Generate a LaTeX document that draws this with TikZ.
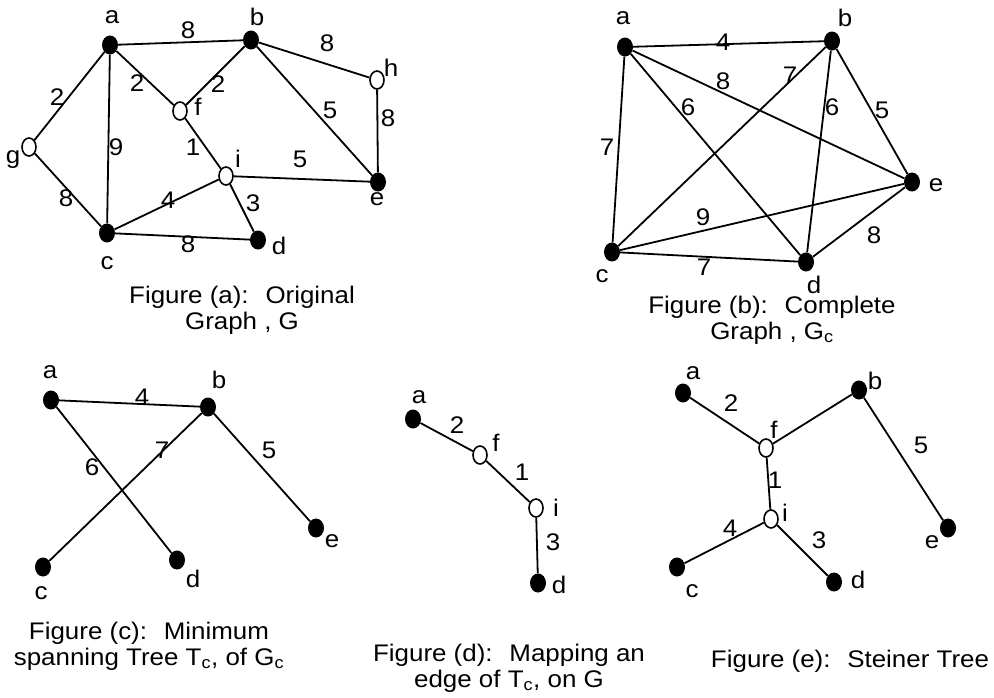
\documentclass[tikz,border=0pt]{standalone}
\usepackage{fontspec}
\setmainfont{Liberation Sans}[FakeStretch=1.08]
\usetikzlibrary{shapes.geometric}
\begin{document}
\begin{tikzpicture}[x=1pt,y=-1pt,
  fnode/.style={ellipse, fill=black, minimum width=16pt, minimum height=19pt, inner sep=0pt},
  onode/.style={ellipse, draw=black, fill=white, line width=1.6pt, minimum width=14pt, minimum height=18pt, inner sep=0pt},
  lbl/.style={inner sep=0pt, font=\fontsize{24}{26}\selectfont},
  edge/.style={line width=1.8pt},
  captxt/.style={inner sep=0pt, align=center, font=\fontsize{24}{26}\selectfont}]
\useasboundingbox (0,0) rectangle (994,697);
\fill[white] (0,0) rectangle (994,697);

% ---------- Figure (a)
\node[fnode] (aa) at (110,45) {};
\node[fnode] (ab) at (251,40) {};
\node[onode] (ah) at (377,80) {};
\node[onode] (af) at (180,111) {};
\node[onode] (ag) at (29,147) {};
\node[onode] (ai) at (226,176) {};
\node[fnode] (ae) at (378,182) {};
\node[fnode] (ac) at (107,233) {};
\node[fnode] (ad) at (258,240) {};
\node[lbl] (aLa) at (112,17) {a};
\node[lbl] (aLb) at (257,17) {b};
\node[lbl] (aLh) at (391,68) {h};
\node[lbl] (aLf) at (198,107) {f};
\node[lbl] (aLg) at (13,160) {g};
\node[lbl] (aLi) at (238,159) {i};
\node[lbl] (aLe) at (377,199) {e};
\node[lbl] (aLc) at (107,263) {c};
\node[lbl] (aLd) at (279,246) {d};
\draw[edge] (aa) -- (ab);
\draw[edge] (ab) -- (ah);
\draw[edge] (aa) -- (af);
\draw[edge] (af) -- (ab);
\draw[edge] (ab) -- (ae);
\draw[edge] (ah) -- (ae);
\draw[edge] (aa) -- (ag);
\draw[edge] (aa) -- (ac);
\draw[edge] (af) -- (ai);
\draw[edge] (ai) -- (ae);
\draw[edge] (ag) -- (ac);
\draw[edge] (ac) -- (ai);
\draw[edge] (ai) -- (ad);
\draw[edge] (ac) -- (ad);
\node[lbl] (aW1) at (188,30) {8};
\node[lbl] (aW2) at (327,43) {8};
\node[lbl] (aW3) at (137,83) {2};
\node[lbl] (aW4) at (218,84) {2};
\node[lbl] (aW5) at (330,110) {5};
\node[lbl] (aW6) at (388,118) {8};
\node[lbl] (aW7) at (57,97) {2};
\node[lbl] (aW8) at (116,147) {9};
\node[lbl] (aW9) at (193,147) {1};
\node[lbl] (aW10) at (300,159) {5};
\node[lbl] (aW11) at (66,198) {8};
\node[lbl] (aW12) at (168,200) {4};
\node[lbl] (aW13) at (253,203) {3};
\node[lbl] (aW14) at (188,244) {8};
\node[captxt] (aCap) at (242,310) {Figure (a):~ Original\\Graph , G};

% ---------- Figure (b)
\node[fnode] (ba) at (625,47) {};
\node[fnode] (bb) at (832,41) {};
\node[fnode] (be) at (912,182) {};
\node[fnode] (bd) at (806,262) {};
\node[fnode] (bc) at (612,252) {};
\node[lbl] (bLa) at (623,18) {a};
\node[lbl] (bLb) at (845,18) {b};
\node[lbl] (bLe) at (936,185) {e};
\node[lbl] (bLd) at (814,285) {d};
\node[lbl] (bLc) at (602,276) {c};
\draw[edge] (ba) -- (bb);
\draw[edge] (ba) -- (be);
\draw[edge] (ba) -- (bd);
\draw[edge] (ba) -- (bc);
\draw[edge] (bb) -- (bc);
\draw[edge] (bb) -- (bd);
\draw[edge] (bb) -- (be);
\draw[edge] (bc) -- (be);
\draw[edge] (bc) -- (bd);
\draw[edge] (bd) -- (be);
\node[lbl] (bW1) at (723,42) {4};
\node[lbl] (bW2) at (723,81) {8};
\node[lbl] (bW3) at (790,75) {7};
\node[lbl] (bW4) at (688,107) {6};
\node[lbl] (bW5) at (832,107) {6};
\node[lbl] (bW6) at (882,110) {5};
\node[lbl] (bW7) at (607,147) {7};
\node[lbl] (bW8) at (703,217) {9};
\node[lbl] (bW9) at (874,235) {8};
\node[lbl] (bW10) at (704,267) {7};
\node[captxt] (bCap) at (772,320) {Figure (b):~ Complete\\Graph , G\textsubscript{c}};

% ---------- Figure (c)
\node[fnode] (ca) at (51,400) {};
\node[fnode] (cb) at (208,407) {};
\node[fnode] (ce) at (316,528) {};
\node[fnode] (cd) at (177,560) {};
\node[fnode] (cc) at (43,567) {};
\node[lbl] (cLa) at (50,372) {a};
\node[lbl] (cLb) at (219,380) {b};
\node[lbl] (cLe) at (332,541) {e};
\node[lbl] (cLd) at (193,579) {d};
\node[lbl] (cLc) at (41,593) {c};
\draw[edge] (ca) -- (cb);
\draw[edge] (ca) -- (cd);
\draw[edge] (cc) -- (cb);
\draw[edge] (cb) -- (ce);
\node[lbl] (cW1) at (142,397) {4};
\node[lbl] (cW2) at (92,467) {6};
\node[lbl] (cW3) at (162,450) {7};
\node[lbl] (cW4) at (269,450) {5};
\node[captxt] (cCap) at (149,646) {Figure (c):~ Minimum\\spanning Tree T\textsubscript{c}, of G\textsubscript{c}};

% ---------- Figure (d)
\node[fnode] (da) at (413,419) {};
\node[onode] (df) at (480,455) {};
\node[onode] (di) at (536,508) {};
\node[fnode] (dd) at (538,583) {};
\node[lbl] (dLa) at (419,397) {a};
\node[lbl] (dLf) at (496,443) {f};
\node[lbl] (dLi) at (556,508) {i};
\node[lbl] (dLd) at (559,585) {d};
\draw[edge] (da) -- (df);
\draw[edge] (df) -- (di);
\draw[edge] (di) -- (dd);
\node[lbl] (dW1) at (457,425) {2};
\node[lbl] (dW2) at (522,472) {1};
\node[lbl] (dW3) at (553,542) {3};
\node[captxt] (dCap) at (509,668) {Figure (d):~ Mapping an\\edge of T\textsubscript{c}, on G};

% ---------- Figure (e)
\node[fnode] (ea) at (683,393) {};
\node[fnode] (eb) at (859,390) {};
\node[onode] (ef) at (766,448) {};
\node[onode] (ei) at (771,519) {};
\node[fnode] (ec) at (677,567) {};
\node[fnode] (ed) at (834,582) {};
\node[fnode] (ee) at (948,528) {};
\node[lbl] (eLa) at (693,373) {a};
\node[lbl] (eLb) at (875,381) {b};
\node[lbl] (eLf) at (774,430) {f};
\node[lbl] (eLi) at (785,513) {i};
\node[lbl] (eLc) at (692,591) {c};
\node[lbl] (eLd) at (858,580) {d};
\node[lbl] (eLe) at (932,542) {e};
\draw[edge] (ea) -- (ef);
\draw[edge] (ef) -- (eb);
\draw[edge] (ef) -- (ei);
\draw[edge] (ec) -- (ei);
\draw[edge] (ei) -- (ed);
\draw[edge] (eb) -- (ee);
\node[lbl] (eW1) at (731,403) {2};
\node[lbl] (eW2) at (775,480) {1};
\node[lbl] (eW3) at (730,528) {4};
\node[lbl] (eW4) at (819,540) {3};
\node[lbl] (eW5) at (921,445) {5};
\node[captxt] (eCap) at (850,661) {Figure (e):~ Steiner Tree};
\end{tikzpicture}
\end{document}
